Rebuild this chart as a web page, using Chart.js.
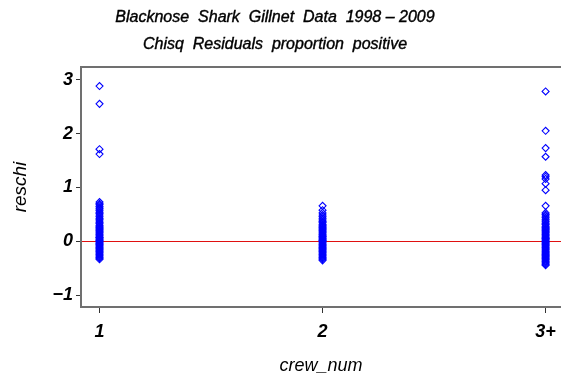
<!DOCTYPE html>
<html>
<head>
<meta charset="utf-8">
<script src="https://cdn.jsdelivr.net/npm/chart.js@4.4.1/dist/chart.umd.min.js"></script>
<style>
  html, body { margin: 0; padding: 0; background: #ffffff; }
  #wrap { width: 561px; height: 380px; position: relative; }
</style>
</head>
<body>
<div id="wrap"><canvas id="c" width="561" height="380"></canvas></div>
<script>
// Chi-square residuals by crew size group
const groupLabels = ['1', '2', '3+'];
const groupPositions = [1, 2, 3];

const crew1 = [2.88, 2.55, 1.71, 1.62,
  0.73, 0.70, 0.68, 0.65, 0.62, 0.60, 0.57, 0.54, 0.52, 0.49, 0.46, 0.43, 0.41,
  0.38, 0.35, 0.33, 0.30, 0.28, 0.26, 0.24, 0.22, 0.20, 0.18, 0.16, 0.14, 0.12,
  0.10, 0.08, 0.07, 0.05, 0.03, 0.02, 0.00, -0.02, -0.04, -0.05, -0.07, -0.09,
  -0.11, -0.13, -0.15, -0.17, -0.19, -0.21, -0.23, -0.25, -0.27, -0.29, -0.31, -0.33];

const crew2 = [0.66, 0.58, 0.53, 0.49, 0.46, 0.43, 0.40, 0.37, 0.35, 0.32, 0.30,
  0.28, 0.26, 0.24, 0.22, 0.20, 0.18, 0.16, 0.14, 0.12, 0.10, 0.09, 0.07, 0.05,
  0.04, 0.02, 0.01, -0.01, -0.03, -0.05, -0.07, -0.09, -0.11, -0.13, -0.15, -0.17,
  -0.19, -0.21, -0.23, -0.25, -0.27, -0.29, -0.31, -0.33, -0.35];

const crew3 = [2.78, 2.05, 1.73, 1.57, 1.23, 1.20, 1.16, 1.07, 0.95, 0.66,
  0.53, 0.50, 0.47, 0.44, 0.41, 0.38, 0.36, 0.33, 0.31, 0.28, 0.26, 0.24, 0.22,
  0.20, 0.18, 0.16, 0.14, 0.12, 0.10, 0.08, 0.06, 0.05, 0.03, 0.01, 0.00, -0.02,
  -0.04, -0.06, -0.08, -0.10, -0.12, -0.14, -0.16, -0.18, -0.20, -0.22, -0.24,
  -0.26, -0.28, -0.30, -0.32, -0.34, -0.36, -0.38, -0.40, -0.42, -0.44];

const yTickValues = [-1, 0, 1, 2, 3];
const titleLines = ['Blacknose  Shark  Gillnet  Data  1998 \u2013 2009', 'Chisq  Residuals  proportion  positive'];

const points = [crew1, crew2, crew3].flatMap((vals, i) =>
  vals.map(v => ({ x: groupPositions[i], y: v })));

const FONT = '"Liberation Sans", Arial, Helvetica, sans-serif';

const decor = {
  id: 'decor',
  beforeDatasetsDraw(chart) {
    const { ctx, chartArea: a, scales } = chart;
    const y0 = Math.round(scales.y.getPixelForValue(0)) + 0.5;
    ctx.save();
    // reference line at zero
    ctx.strokeStyle = '#e01010';
    ctx.lineWidth = 1;
    ctx.beginPath();
    ctx.moveTo(a.left + 1, y0);
    ctx.lineTo(a.right, y0);
    ctx.stroke();
    // top frame line
    ctx.strokeStyle = '#707070';
    ctx.lineWidth = 2;
    ctx.beginPath();
    ctx.moveTo(a.left - 1, a.top);
    ctx.lineTo(a.right, a.top);
    ctx.stroke();
    ctx.restore();
  },
  afterDraw(chart) {
    const { ctx } = chart;
    ctx.save();
    ctx.fillStyle = '#000';
    ctx.strokeStyle = '#000';
    ctx.lineWidth = 0.4;
    ctx.textAlign = 'center';
    ctx.textBaseline = 'middle';
    ctx.font = 'italic 16px ' + FONT;
    ctx.fillText(titleLines[0], 275, 18);
    ctx.strokeText(titleLines[0], 275, 18);
    ctx.fillText(titleLines[1], 275, 45);
    ctx.strokeText(titleLines[1], 275, 45);
    ctx.restore();
  }
};

new Chart(document.getElementById('c'), {
  type: 'scatter',
  data: {
    datasets: [{
      data: points,
      pointStyle: 'rectRot',
      pointRadius: 3.5,
      pointHoverRadius: 3.5,
      borderColor: '#0000ff',
      backgroundColor: 'rgba(0,0,0,0)',
      pointBorderWidth: 1.1
    }]
  },
  options: {
    responsive: false,
    animation: false,
    events: [],
    layout: { autoPadding: false, padding: { top: 67, left: 0, right: 0, bottom: 0 } },
    plugins: { legend: { display: false }, tooltip: { enabled: false }, title: { display: false } },
    scales: {
      x: {
        type: 'linear',
        min: 0.917,
        max: 3.069,
        afterFit(s) { s.height = 73; s.paddingLeft = 0; s.paddingRight = 0; },
        afterBuildTicks(s) { s.ticks = groupPositions.map(v => ({ value: v })); },
        ticks: {
          autoSkip: false,
          maxRotation: 0,
          padding: 8,
          color: '#000',
          font: { family: FONT, size: 18, style: 'italic', weight: 'bold' },
          callback: (v) => groupLabels[groupPositions.indexOf(v)]
        },
        grid: { display: true, drawOnChartArea: false, drawTicks: true, tickLength: 6, color: '#333' },
        border: { display: true, color: '#707070', width: 2 },
        title: {
          display: true, text: 'crew_num', color: '#000',
          font: { family: FONT, size: 18, style: 'italic' },
          padding: { top: 0, bottom: 3 }
        }
      },
      y: {
        min: -1.214,
        max: 3.233,
        afterFit(s) { s.width = 81; s.paddingTop = 0; s.paddingBottom = 0; },
        afterBuildTicks(s) { s.ticks = yTickValues.map(v => ({ value: v })); },
        ticks: {
          padding: 3,
          color: '#000',
          font: { family: FONT, size: 18, style: 'italic', weight: 'bold' },
          callback: (v) => (v < 0 ? '\u2212' + Math.abs(v) : String(v))
        },
        grid: { display: true, drawOnChartArea: false, drawTicks: true, tickLength: 5, color: '#333' },
        border: { display: true, color: '#707070', width: 2 },
        title: {
          display: true, text: 'reschi', color: '#000',
          font: { family: FONT, size: 19, style: 'italic' },
          padding: { top: 9, bottom: 0 }
        }
      }
    }
  },
  plugins: [decor]
});
</script>
</body>
</html>
